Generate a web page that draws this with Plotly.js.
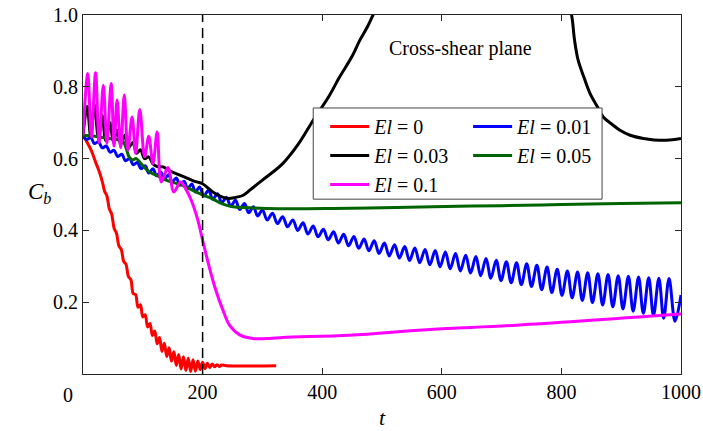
<!DOCTYPE html>
<html>
<head>
<meta charset="utf-8">
<script src="https://cdn.plot.ly/plotly-3.0.1.min.js"></script>
<style>html,body{margin:0;padding:0;background:#fff;}#chart{width:703px;height:431px;}</style>
</head>
<body>
<div id="chart"></div>
<script>
// ---- Data ----
const legendNames = ['<i>El</i> = 0', '<i>El</i> = 0.01', '<i>El</i> = 0.03', '<i>El</i> = 0.05', '<i>El</i> = 0.1'];
const legendColumn = ['legend', 'legend2', 'legend', 'legend2', 'legend'];

const redT = [0,5,14,22,28,33,36,40,44,48,52,56,60,64,68,72,76,80,84,88,92,96,100,104,108,112,116,120,124,128,132,136,140,144,148,152,156,160,164,168,172,176,180,184,188,192,196,200,204,208,212,216,220,224,228,232,240,323];
const redC = [0.665,0.651,0.622,0.586,0.56,0.531,0.51,0.496,0.460,0.445,0.406,0.392,0.357,0.347,0.314,0.305,0.271,0.263,0.224,0.221,0.186,0.193,0.159,0.165,0.131,0.141,0.107,0.120,0.084,0.102,0.063,0.086,0.049,0.073,0.036,0.062,0.024,0.054,0.014,0.048,0.010,0.044,0.007,0.040,0.008,0.036,0.012,0.033,0.015,0.030,0.018,0.028,0.020,0.026,0.021,0.025,0.023,0.023];

const blueT = [0,6,13,19,26,32,39,45,52,58,65,71,78,84,91,97,104,110,117,123,130,136,143,149,156,162,169,175,182,188,195,
  202,210,217,225,232,240,247,255,262,270,277,285,292,300,
  308,317,325,334,342,351,359,368,376,385,393,402,410,419,427,436,444,453,461,470,478,487,495,504,512,521,529,538,546,555,563,572,580,589,597,606,614,623,631,640,648,657,665,674,682,691,699,708,716,725,733,742,750,759,767,776,784,793,801,810,818,827,835,844,852,861,869,878,886,895,903,912,920,929,937,946,954,963,971,980,990,1000];
const blueC = [0.665,0.653,0.659,0.642,0.647,0.630,0.635,0.618,0.623,0.606,0.612,0.594,0.600,0.583,0.589,0.572,0.580,0.560,0.572,0.552,0.563,0.543,0.555,0.535,0.546,0.526,0.537,0.517,0.529,0.507,0.521,
  0.496,0.512,0.487,0.502,0.477,0.492,0.467,0.484,0.458,0.475,0.449,0.466,0.440,0.457,
  0.429,0.448,0.419,0.438,0.410,0.429,0.400,0.421,0.390,0.412,0.382,0.403,0.374,0.396,0.365,0.389,0.357,0.383,0.350,0.376,0.343,0.371,0.336,0.365,0.329,0.360,0.323,0.355,0.316,0.351,0.310,0.347,0.304,0.344,0.299,0.340,0.293,0.336,0.287,0.331,0.281,0.327,0.274,0.322,0.267,0.317,0.260,0.313,0.254,0.310,0.249,0.307,0.244,0.303,0.235,0.298,0.227,0.292,0.219,0.287,0.212,0.284,0.205,0.282,0.199,0.279,0.192,0.277,0.187,0.274,0.181,0.272,0.175,0.270,0.169,0.268,0.163,0.267,0.155,0.266,0.147,0.22];

const blackT = [0,7,13,19,26,32,38,45,51,57,63,70,76,83,90,96,103,110,117,124,134,145,162,175,190,200,217,230,243,255,268,279,300,334,360,385,410,429,450,463,475,485,500,550,650,750,790,810,817,822,828,838,848,860,870,885,898,915,937,955,976,1000];
const blackC = [0.665,0.745,0.660,0.750,0.655,0.720,0.650,0.700,0.645,0.680,0.640,0.665,0.630,0.645,0.615,0.625,0.600,0.605,0.585,0.578,0.577,0.566,0.554,0.545,0.535,0.530,0.507,0.495,0.489,0.492,0.498,0.512,0.540,0.586,0.640,0.707,0.770,0.827,0.885,0.930,0.965,1.000,1.05,1.20,1.35,1.30,1.15,1.04,1.00,0.93,0.874,0.825,0.781,0.745,0.716,0.695,0.679,0.665,0.656,0.652,0.651,0.656];

const greenT = [0,20,40,60,67,72,77,83,89,97,111,128,139,156,167,183,201,214,233,251,279,307,350,418,500,585,700,800,900,1000];
const greenC = [0.665,0.662,0.657,0.652,0.648,0.630,0.605,0.596,0.600,0.586,0.563,0.549,0.540,0.531,0.525,0.512,0.498,0.490,0.474,0.466,0.463,0.461,0.460,0.461,0.463,0.466,0.469,0.472,0.475,0.477];

const magT = [0,8,14,21,27,34,40,47,52,57,63,69,75,82,88,95,103,110,117,124,131,142,152,163,172,181,192,200,211,222,234,245,262,284,312,334,446,580,725,1000];
const magC = [0.665,0.837,0.660,0.839,0.645,0.804,0.642,0.809,0.635,0.763,0.630,0.777,0.623,0.716,0.615,0.737,0.605,0.662,0.586,0.674,0.535,0.575,0.507,0.535,0.515,0.484,0.429,0.373,0.299,0.234,0.178,0.136,0.109,0.099,0.099,0.102,0.108,0.124,0.136,0.167];

const xTickVals = [200,400,600,800,1000];
const xTickText = ['200','400','600','800','1000'];
const yTickVals = [0.2,0.4,0.6,0.8,1.0];
const yTickText = ['0.2','0.4','0.6','0.8','1.0'];
const markerTime = 200;

// ---- Build ----
const colors = ['#ff0000','#0000ff','#000000','#006400','#ff00ff'];
const series = [[redT,redC],[blueT,blueC],[blackT,blackC],[greenT,greenC],[magT,magC]];
const traces = series.map((s,i)=>({
  x: s[0], y: s[1], type:'scatter', mode:'lines', name: legendNames[i],
  legend: legendColumn[i], legendgroup: 'g'+i,
  line:{color:colors[i], width:3, shape:'spline', smoothing:1}
}));

const FONT = 'Liberation Serif';
const axisCommon = {
  showline:true, linecolor:'#262626', linewidth:1, mirror:'ticks',
  ticks:'inside', ticklen:6, tickcolor:'#262626', tickwidth:1,
  showgrid:false, zeroline:false,
  tickfont:{family:FONT, size:20, color:'#000'}
};
const legendCommon = {
  orientation:'v', xanchor:'left', yanchor:'top',
  bgcolor:'rgba(0,0,0,0)', borderwidth:0,
  font:{family:FONT, size:20, color:'#000'},
  itemwidth:39, tracegroupgap:0
};

const layout = {
  width:703, height:431,
  margin:{l:83, r:22, t:15, b:57},
  paper_bgcolor:'#fff', plot_bgcolor:'#fff',
  font:{family:FONT, color:'#000'},
  showlegend:true,
  xaxis:Object.assign({}, axisCommon, {
    range:[0,1000], tickmode:'array', tickvals:xTickVals, ticktext:xTickText,
    title:{text:'<i>t</i>', font:{family:FONT, size:22}, standoff:7}
  }),
  yaxis:Object.assign({}, axisCommon, {
    range:[0,1], tickmode:'array', tickvals:yTickVals, ticktext:yTickText
  }),
  legend:Object.assign({}, legendCommon, {x:0.405, y:0.744}),
  legend2:Object.assign({}, legendCommon, {x:0.644, y:0.744}),
  shapes:[
    {type:'rect', xref:'paper', yref:'paper', x0:0.385, x1:0.868, y0:0.487, y1:0.741,
      fillcolor:'#fff', line:{color:'#444', width:1}, layer:'above'},
    {type:'line', xref:'x', yref:'paper', x0:markerTime, x1:markerTime, y0:0, y1:1,
      line:{color:'#000', width:1.5, dash:'10px,6px'}}
  ],
  annotations:[
    {text:'Cross-shear plane', xref:'x', yref:'y', x:632, y:0.907, showarrow:false,
      font:{family:FONT, size:20, color:'#000'}},
    {text:'0', xref:'x', yref:'paper', x:0, y:0, xanchor:'center', yanchor:'top',
      xshift:-15, yshift:-8, showarrow:false, font:{family:FONT, size:20, color:'#000'}},
    {text:'<i>C</i><sub><i>b</i></sub>', xref:'paper', yref:'paper', x:-0.072, y:0.504,
      xanchor:'center', yanchor:'middle', showarrow:false, font:{family:FONT, size:23, color:'#000'}}
  ]
};

Plotly.newPlot('chart', traces, layout, {displayModeBar:false, staticPlot:true});
</script>
</body>
</html>
